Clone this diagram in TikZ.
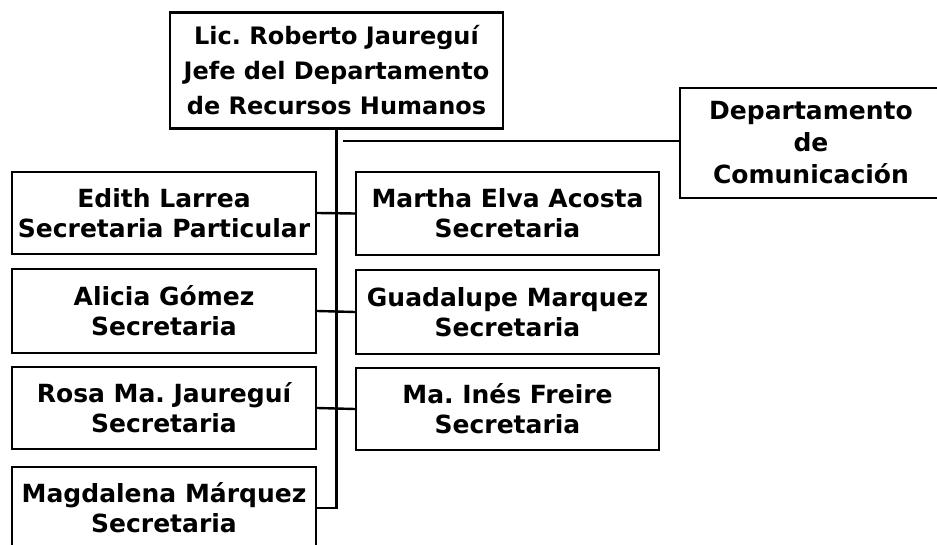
\documentclass[tikz,border=0pt]{standalone}
\usepackage{fontspec}
\setmainfont{DejaVu Sans}
\frenchspacing
\begin{document}
\begin{tikzpicture}[x=1pt,y=-1pt,
  box/.style={draw=black, line width=2.4pt, rectangle, align=center, inner sep=0pt,
    font=\fontsize{25}{30}\selectfont\bfseries},
  bigbox/.style={box, font=\fontsize{24}{35}\selectfont\bfseries},
  deptbox/.style={box, font=\fontsize{25}{32}\selectfont\bfseries},
  conn/.style={draw=black, line width=2.4pt}]
\clip (0,0) rectangle (937,545);
\fill[white] (0,0) rectangle (937,545);
\node[bigbox, minimum width=333pt, minimum height=116pt] (jefe) at (336.5,70.5)
  {Lic. Roberto Jaureguí\\Jefe del Departamento\\de Recursos Humanos};
\node[deptbox, minimum width=262pt, minimum height=110pt] (dept) at (811,143)
  {Departamento\\de\\Comunicación};
\node[box, minimum width=304pt, minimum height=82pt] (edith) at (164,213)
  {Edith Larrea\\Secretaria Particular};
\node[box, minimum width=304pt, minimum height=84pt] (alicia) at (164,311)
  {Alicia Gómez\\Secretaria};
\node[box, minimum width=304pt, minimum height=82pt] (rosa) at (164,408)
  {Rosa Ma. Jaureguí\\Secretaria};
\node[box, minimum width=304pt, minimum height=82pt] (magda) at (164,508)
  {Magdalena Márquez\\Secretaria};
\node[box, minimum width=303pt, minimum height=83pt] (martha) at (507.5,213.5)
  {Martha Elva Acosta\\Secretaria};
\node[box, minimum width=303pt, minimum height=84pt] (guada) at (507.5,312)
  {Guadalupe Marquez\\Secretaria};
\node[box, minimum width=303pt, minimum height=82pt] (ines) at (507.5,409)
  {Ma. Inés Freire\\Secretaria};
\coordinate (cstart) at (343,141);
\draw[conn] (jefe.south) |- (magda.east);
\draw[conn] (edith.east) -- (martha.west);
\draw[conn] (alicia.east) -- (guada.west);
\draw[conn] (rosa.east) -- (ines.west);
\draw[conn] (cstart) -- (cstart -| dept.west);
\end{tikzpicture}
\end{document}
